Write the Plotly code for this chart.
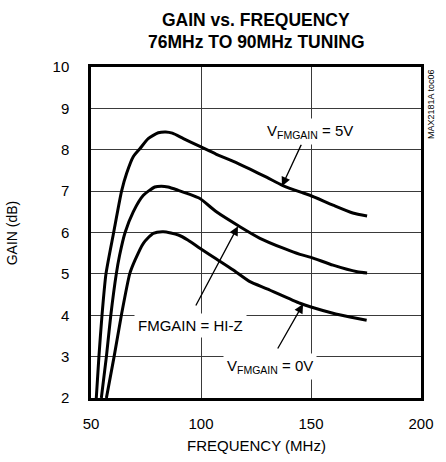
import plotly.graph_objects as go

# Data (frequency in MHz, gain in dB)
f_5v = [52.4, 53.6, 55.0, 56.8, 60.3, 63.9, 66.2, 69.2, 72.3, 76.0, 80.6, 84.0, 87.0, 92.0, 99.5, 107.0, 114.7, 122.3, 130.0, 137.0, 145.0, 149.5, 160.0, 169.0, 175.5]
g_5v = [2.0, 3.0, 4.0, 5.0, 6.0, 7.0, 7.43, 7.83, 8.03, 8.27, 8.41, 8.43, 8.4, 8.27, 8.08, 7.89, 7.72, 7.53, 7.33, 7.14, 6.98, 6.9, 6.66, 6.47, 6.4]

f_hiz = [54.7, 57.0, 59.0, 61.5, 63.0, 65.5, 69.2, 73.8, 79.0, 82.0, 85.0, 89.7, 94.0, 99.5, 107.0, 117.7, 126.8, 137.4, 145.0, 150.0, 160.0, 171.0, 175.5]
g_hiz = [2.0, 3.0, 4.0, 5.0, 5.45, 6.0, 6.5, 6.9, 7.1, 7.12, 7.1, 7.02, 6.94, 6.82, 6.5, 6.14, 5.86, 5.62, 5.47, 5.4, 5.21, 5.05, 5.02]

f_0v = [57.0, 60.5, 63.8, 67.6, 70.0, 73.8, 78.3, 82.9, 89.7, 94.0, 99.5, 107.0, 114.5, 122.0, 130.0, 145.0, 150.0, 160.0, 167.7, 175.3]
g_0v = [2.0, 3.0, 4.0, 5.0, 5.33, 5.74, 5.98, 6.02, 5.94, 5.82, 5.62, 5.36, 5.1, 4.82, 4.64, 4.29, 4.2, 4.05, 3.96, 3.88]

x_ticks = [50, 100, 150, 200]
y_ticks = [2, 3, 4, 5, 6, 7, 8, 9, 10]

FONT = "Liberation Sans, Arial, sans-serif"

fig = go.Figure()
for fx, gy in [(f_5v, g_5v), (f_hiz, g_hiz), (f_0v, g_0v)]:
    fig.add_trace(go.Scatter(x=fx, y=gy, mode="lines",
                             line=dict(color="black", width=3, shape="spline", smoothing=0.6),
                             showlegend=False, hoverinfo="skip"))

axis_common = dict(showline=True, linecolor="black", linewidth=2.5, mirror=True,
                   showgrid=True, gridcolor="#3a3a3a", gridwidth=1, zeroline=False,
                   ticks="", automargin=False,
                   tickfont=dict(family=FONT, size=15, color="black"))

fig.update_xaxes(range=[50, 200], tickvals=x_ticks, ticktext=[str(v) for v in x_ticks],
                 ticklabelstandoff=10, **axis_common)
fig.update_yaxes(range=[2, 10], tickvals=y_ticks, ticktext=[str(v) for v in y_ticks],
                 ticklabelstandoff=16, **axis_common)

ann = []
# arrows (tip on curve, tail near label)
arrows = [((136.8, 7.12), (145.9, 8.16)),
          ((116.8, 6.15), (97.3, 4.20)),
          ((146.4, 4.27), (134.5, 3.16))]
for (tx, ty), (sx, sy) in arrows:
    ann.append(dict(x=tx, y=ty, ax=sx, ay=sy, xref="x", yref="y", axref="x", ayref="y",
                    showarrow=True, arrowhead=2, arrowsize=1.4, arrowwidth=1.3, arrowcolor="black", text=""))

labels = [("V<sub>FMGAIN</sub> = 5V", 149.5, 8.43),
          ("FMGAIN = HI-Z", 95.0, 3.76),
          ("V<sub>FMGAIN</sub> = 0V", 131.4, 2.75)]
for t, x, y in labels:
    ann.append(dict(x=x, y=y, xref="x", yref="y", text=t, showarrow=False, bgcolor="white", borderpad=3,
                    font=dict(family=FONT, size=15, color="black")))

# side code
ann.append(dict(x=1.03, y=0.888, xref="paper", yref="paper", xanchor="center", yanchor="middle",
                text="MAX2181A toc06", textangle=-90, showarrow=False,
                font=dict(family=FONT, size=9, color="black")))

# titles
ann.append(dict(x=0.5, y=1.142, xref="paper", yref="paper", xanchor="center", yanchor="middle",
                text="<b>GAIN vs. FREQUENCY</b>", showarrow=False,
                font=dict(family=FONT, size=17.5, color="black")))
ann.append(dict(x=0.5, y=1.076, xref="paper", yref="paper", xanchor="center", yanchor="middle",
                text="<b>76MHz TO 90MHz TUNING</b>", showarrow=False,
                font=dict(family=FONT, size=17.5, color="black")))
ann.append(dict(x=0.5, y=-0.142, xref="paper", yref="paper", xanchor="center", yanchor="middle",
                text="FREQUENCY (MHz)", showarrow=False,
                font=dict(family=FONT, size=15, color="black")))
ann.append(dict(x=-0.24, y=0.5, xref="paper", yref="paper", xanchor="center", yanchor="middle",
                text="GAIN (dB)", textangle=-90, showarrow=False,
                font=dict(family=FONT, size=14, color="black")))

fig.update_layout(
    width=446, height=462,
    margin=dict(l=91, r=25, t=67, b=64),
    paper_bgcolor="white", plot_bgcolor="white",
    annotations=ann,
)

fig.write_html("out.html", config={"displayModeBar": False},
               post_script="document.body.style.margin='0';document.body.style.overflow='hidden';")
